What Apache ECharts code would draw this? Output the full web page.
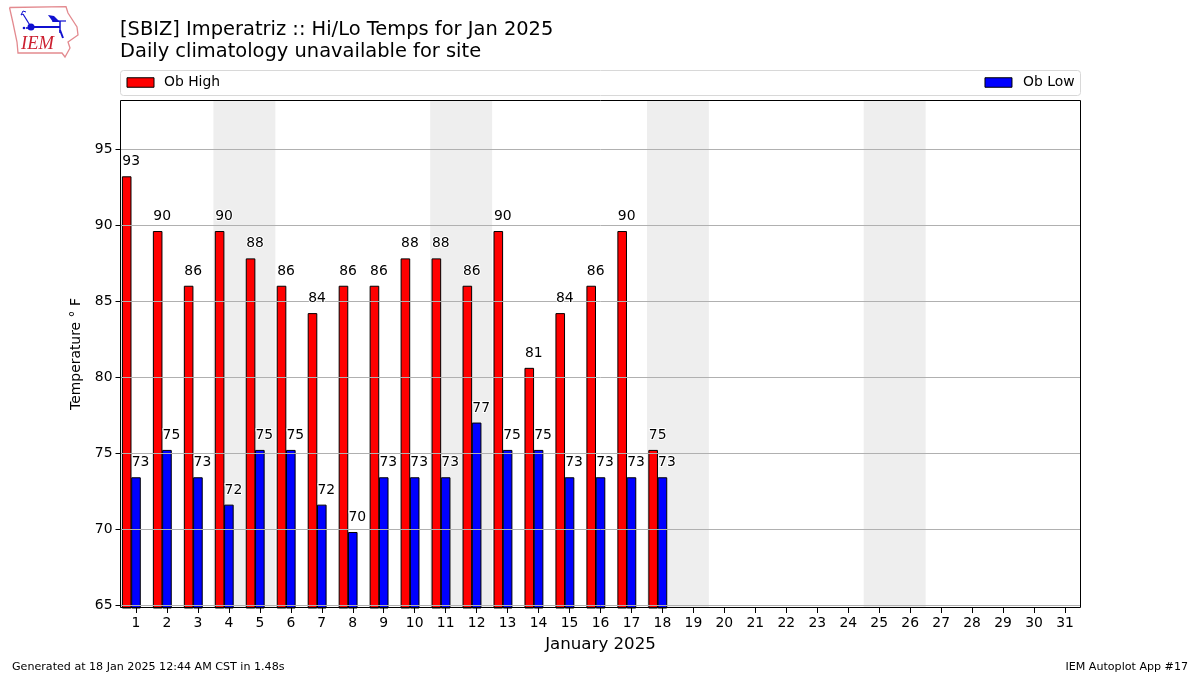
<!DOCTYPE html>
<html><head><meta charset="utf-8">
<style>html,body{margin:0;padding:0;background:#fff}#c{width:1200px;height:675px}</style>
<script src="https://cdn.jsdelivr.net/npm/echarts@6/dist/echarts.min.js"></script>
</head><body><div id="c"></div>
<script>
const days = [1,2,3,4,5,6,7,8,9,10,11,12,13,14,15,16,17,18];
const highs = [93.2,89.6,86,89.6,87.8,86,84.2,86,86,87.8,87.8,86,89.6,80.6,84.2,86,89.6,75.2];
const lows = [73.4,75.2,73.4,71.6,75.2,75.2,71.6,69.8,73.4,73.4,73.4,77,75.2,75.2,73.4,73.4,73.4,73.4];
const xTicks = Array.from({length:31},(_,i)=>i+1);
const yTicks = [65,70,75,80,85,90,95];
const weekendBands = [[3.5,5.5],[10.5,12.5],[17.5,19.5],[24.5,26.5]];
const highOffset = -0.3;
const FONT = '"DejaVu Sans"';

const highData = days.map((d,i)=>[d+highOffset,highs[i]]);
const lowData = days.map((d,i)=>[d,lows[i]]);
const barBase = {type:'bar',barWidth:9.6,barGap:'-100%',z:1,silent:true};
const labelSeries = (data)=>({type:'scatter',data,symbolSize:0,z:5,silent:true,itemStyle:{opacity:1},
  label:{show:true,position:'top',distance:7.5,offset:[4.5,0],color:'#000',opacity:1,fontFamily:FONT,fontSize:13.9,
    textBorderColor:'#fff',textBorderWidth:2,
    formatter:p=>String(Math.round(p.value[1]))}});
const legendBase = {top:75.5,itemWidth:27,itemHeight:9.5,icon:'rect',selectedMode:false,padding:0,itemGap:0,
  itemStyle:{borderColor:'#000',borderWidth:1},
  textStyle:{fontFamily:FONT,fontSize:13.9,color:'#000',padding:[0,0,0,5]}};

const chart = echarts.init(document.getElementById('c'),null,{renderer:'canvas'});
chart.setOption({
  animation:false,
  backgroundColor:'#fff',
  title:{text:'[SBIZ] Imperatriz :: Hi/Lo Temps for Jan 2025\nDaily climatology unavailable for site',
    left:120,top:19,padding:0,
    textStyle:{fontFamily:FONT,fontSize:19.45,fontWeight:'normal',color:'#000',lineHeight:22}},
  grid:{left:120.5,right:119.5,top:100,bottom:67,show:false},
  legend:[
    Object.assign({},legendBase,{left:126.5,data:['Ob High']}),
    Object.assign({},legendBase,{right:125.5,data:['Ob Low'],
      textStyle:Object.assign({},legendBase.textStyle,{padding:[0,0,0,6]})})
  ],
  xAxis:{type:'value',min:0.5,max:31.5,
    name:'January 2025',nameLocation:'middle',nameGap:28,
    nameTextStyle:{fontFamily:FONT,fontSize:16.65,color:'#000'},
    axisLine:{show:false},
    axisTick:{show:true,length:5,lineStyle:{color:'#000',width:1},customValues:xTicks},
    axisLabel:{fontFamily:FONT,fontSize:13.9,color:'#000',margin:8,customValues:xTicks,showMinLabel:true,showMaxLabel:true},
    splitLine:{show:false}},
  yAxis:{type:'value',min:64.8,max:98.22,z:2,
    name:'Temperature \u00B0 F',nameLocation:'middle',nameGap:37,nameRotate:90,
    nameTextStyle:{fontFamily:FONT,fontSize:13.9,color:'#000'},
    axisLine:{show:false},
    axisTick:{show:true,length:5,lineStyle:{color:'#000',width:1},customValues:yTicks},
    axisLabel:{fontFamily:FONT,fontSize:13.9,color:'#000',margin:8,customValues:yTicks,padding:[5,0,0,0]},
    splitLine:{show:true,lineStyle:{color:'#b0b0b0',width:1,type:'solid'}}},
  series:[
    {type:'line',data:[],z:0,silent:true,
      markArea:{silent:true,z:0,itemStyle:{color:'#eeeeee'},
        data:weekendBands.map(b=>[{xAxis:b[0]},{xAxis:b[1]}])}},
    Object.assign({},barBase,{name:'Ob High',data:highData,itemStyle:{color:'#ff0000',borderColor:'#000',borderWidth:1}}),
    Object.assign({},barBase,{name:'Ob Low',data:lowData,itemStyle:{color:'#0000ff',borderColor:'#000',borderWidth:1}}),
    labelSeries(highData),
    labelSeries(lowData)
  ],
  graphic:[
    {type:'rect',z:-1,shape:{x:120.5,y:70.5,width:960,height:25,r:3},style:{fill:'#fff',stroke:'#d8d8d8',lineWidth:1}},
    {type:'rect',z:10,shape:{x:120.5,y:100.5,width:960,height:507},style:{fill:'none',stroke:'#000',lineWidth:1}},
    {type:'text',left:12,top:662,style:{text:'Generated at 18 Jan 2025 12:44 AM CST in 1.48s',font:'11.1px "DejaVu Sans"',fill:'#000'}},
    {type:'text',right:12,top:662,style:{text:'IEM Autoplot App #17',font:'11.1px "DejaVu Sans"',fill:'#000'}},
    {type:'polyline',shape:{points:[[9.5,7.5],[66,6.7],[68,13],[77,27],[78,35],[68,42],[70,48],[65,57],[62,53],[18,53],[17,42],[13,23],[9.5,7.5]]},
      style:{fill:'none',stroke:'#e38a8f',lineWidth:1.3}},
    {type:'circle',shape:{cx:31,cy:27,r:3.5},style:{fill:'#1010d0'}},
    {type:'line',shape:{x1:31,y1:27,x2:60,y2:27},style:{stroke:'#1010d0',lineWidth:2}},
    {type:'line',shape:{x1:31,y1:27,x2:23,y2:14},style:{stroke:'#1010d0',lineWidth:1.2}},
    {type:'polyline',shape:{points:[[23,14],[21,15],[23,11],[26,12]]},style:{stroke:'#1010d0',lineWidth:1}},
    {type:'polygon',shape:{points:[[48,15],[54,16],[60,22],[53,22]]},style:{fill:'#1010d0'}},
    {type:'line',shape:{x1:52,y1:21,x2:66,y2:21},style:{stroke:'#1010d0',lineWidth:1.2}},
    {type:'line',shape:{x1:60,y1:21,x2:60,y2:33},style:{stroke:'#1010d0',lineWidth:1.5}},
    {type:'line',shape:{x1:60,y1:30,x2:63,y2:38},style:{stroke:'#1010d0',lineWidth:2}},
    {type:'circle',shape:{cx:24,cy:28,r:1.3},style:{fill:'#1010d0'}},
    {type:'circle',shape:{cx:27,cy:28,r:1.1},style:{fill:'#1010d0'}},
    {type:'text',left:21,top:35,style:{text:'IEM',font:'italic 18.5px "Liberation Serif"',fill:'#cc2030'}}
  ]
});
</script></body></html>
